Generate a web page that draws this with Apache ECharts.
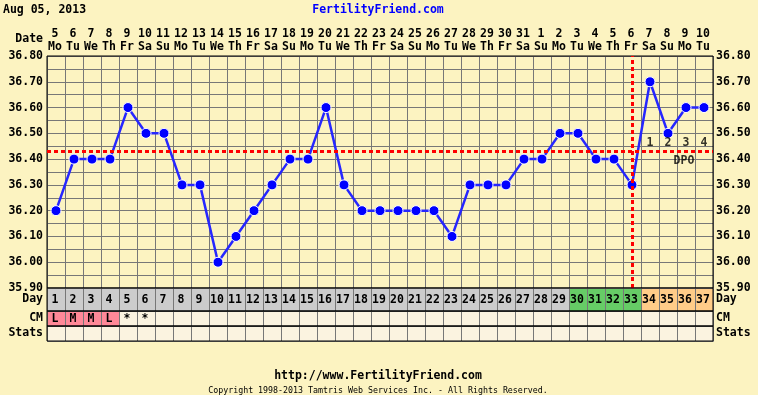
<!DOCTYPE html>
<html><head><meta charset="utf-8">
<script src="https://cdn.jsdelivr.net/npm/echarts@6/dist/echarts.min.js"></script>
<style>html,body{margin:0;padding:0;background:#FCF3C1;}#c{width:758px;height:395px;}</style>
</head><body><div id="c"></div>
<script>
// ---------- data ----------
const chartDate = 'Aug 05, 2013';
const siteName = 'FertilityFriend.com';
const siteUrl = 'http://www.FertilityFriend.com';
const copyright = 'Copyright 1998-2013 Tamtris Web Services Inc. - All Rights Reserved.';
const dayNums = ['1','2','3','4','5','6','7','8','9','10','11','12','13','14','15','16','17','18','19','20','21','22','23','24','25','26','27','28','29','30','31','32','33','34','35','36','37'];
const dates = ['5','6','7','8','9','10','11','12','13','14','15','16','17','18','19','20','21','22','23','24','25','26','27','28','29','30','31','1','2','3','4','5','6','7','8','9','10'];
const weekdays = ['Mo','Tu','We','Th','Fr','Sa','Su','Mo','Tu','We','Th','Fr','Sa','Su','Mo','Tu','We','Th','Fr','Sa','Su','Mo','Tu','We','Th','Fr','Sa','Su','Mo','Tu','We','Th','Fr','Sa','Su','Mo','Tu'];
const temps = [36.20,36.40,36.40,36.40,36.60,36.50,36.50,36.30,36.30,36.00,36.10,36.20,36.30,36.40,36.40,36.60,36.30,36.20,36.20,36.20,36.20,36.20,36.10,36.30,36.30,36.30,36.40,36.40,36.50,36.50,36.40,36.40,36.30,36.70,36.50,36.60,36.60];
const coverline = 36.43;
const ovulationDay = '33';
const dpoDays = ['34','35','36','37'];
const dpoLabels = ['1','2','3','4'];
const dpoTitle = 'DPO';
const dpoTitleDay = '36';
const phases = ['n','n','n','n','n','n','n','n','n','n','n','n','n','n','n','n','n','n','n','n','n','n','n','n','n','n','n','n','n','f','f','f','f','l','l','l','l'];
const cmValues = ['L','M','M','L','*','*','','','','','','','','','','','','','','','','','','','','','','','','','','','','','','',''];
const statsValues = ['','','','','','','','','','','','','','','','','','','','','','','','','','','','','','','','','','','','',''];
const tempMin = 35.9, tempMax = 36.8, tempStep = 0.1;
const rowNames = ['Day','CM','Stats'];

// ---------- styles ----------
const FONT = '"DejaVu Sans Mono", monospace';
const BG = '#FCF3C1';
const GRIDC = '#777777';
const phaseColor = {n:'#CCCCCC', f:'#66CC66', l:'#FFCC88'};
const CREAM = '#FBF3E0';
const PINK = '#FF8898';
const flowCodes = ['L','M','H','S'];
const L = 47, W = 666;

const chart = echarts.init(document.getElementById('c'), null, {renderer:'canvas'});

function mkCell(textArr, fillFn) {
  return function (params, api) {
    const i = params.dataIndex;
    const c = api.coord([api.value(0), 0]);
    const s = api.size([1, 1]);
    const x0 = Math.round(c[0] - s[0] / 2), y0 = Math.round(c[1] - s[1] / 2);
    return {type:'group', children:[
      {type:'rect', shape:{x:x0 + 0.5, y:y0 + 0.5, width:s[0], height:s[1]},
       style:{fill:fillFn(i), stroke:GRIDC, lineWidth:1}},
      {type:'text', x:c[0] - 1, y:c[1] + 0.5,
       style:{text:textArr[i], fill:'#000', font:'bold 11.5px ' + FONT, align:'center', verticalAlign:'middle'}}
    ]};
  };
}

const labelStyle = {color:'#000', fontFamily:FONT, fontWeight:'bold', fontSize:11.5};

const tableGrids = [
  {left:L, width:W, top:288, height:23},
  {left:L, width:W, top:311, height:15},
  {left:L, width:W, top:326, height:15}
];

const xAxes = [{
  type:'category', gridIndex:0, data:dayNums, position:'top', boundaryGap:true,
  axisLine:{show:false}, axisTick:{show:false},
  splitLine:{show:true, interval:0, lineStyle:{color:GRIDC, width:1}},
  axisLabel:{interval:0, margin:2, formatter:(v, idx) => '{d|' + dates[idx] + '}\n{w|' + weekdays[idx] + '}',
    rich:{d:{...labelStyle, lineHeight:13, padding:[0,2,0,0]}, w:{...labelStyle, lineHeight:13, padding:[0,2,0,0]}}}
}];
const yAxes = [
  {type:'value', gridIndex:0, position:'left', min:tempMin, max:tempMax, interval:tempStep,
   axisLine:{show:false}, axisTick:{show:false},
   splitLine:{show:true, lineStyle:{color:GRIDC, width:1}},
   minorTick:{show:false, splitNumber:2},
   minorSplitLine:{show:true, lineStyle:{color:GRIDC, width:1}},
   axisLabel:{...labelStyle, margin:4, formatter:v => v.toFixed(2)}},
  {type:'value', gridIndex:0, position:'right', min:tempMin, max:tempMax, interval:tempStep,
   axisLine:{show:false}, axisTick:{show:false}, splitLine:{show:false},
   axisLabel:{...labelStyle, margin:3, formatter:v => v.toFixed(2)}}
];
tableGrids.forEach((g, k) => {
  xAxes.push({type:'category', gridIndex:k + 1, data:dayNums, show:false, boundaryGap:true});
  yAxes.push({type:'category', gridIndex:k + 1, data:[rowNames[k]], position:'left',
    axisLine:{show:false}, axisTick:{show:false}, splitLine:{show:false},
    axisLabel:{...labelStyle, margin:4}});
  yAxes.push({type:'category', gridIndex:k + 1, data:[rowNames[k]], position:'right',
    axisLine:{show:false}, axisTick:{show:false}, splitLine:{show:false},
    axisLabel:{...labelStyle, margin:3}});
});

const option = {
  backgroundColor: BG,
  animation:false,
  grid:[
    {left:L, width:W, top:56, height:232, show:true, borderColor:'#000', borderWidth:1, z:1},
    ...tableGrids.map(g => ({...g, show:true, borderColor:'#000', borderWidth:1, z:10}))
  ],
  xAxis:xAxes,
  yAxis:yAxes,
  graphic:[
    {type:'text', x:3, y:10.5, style:{text:chartDate, font:'bold 11.5px ' + FONT, fill:'#000', verticalAlign:'middle'}},
    {type:'text', x:378, y:10.5, style:{text:siteName, font:'bold 11.5px ' + FONT, fill:'#0000FF', align:'center', verticalAlign:'middle'}},
    {type:'text', x:43, y:39.5, style:{text:'Date', font:'bold 11.5px ' + FONT, fill:'#000', align:'right', verticalAlign:'middle'}},
    {type:'text', x:378, y:376, style:{text:siteUrl, font:'bold 11.5px ' + FONT, fill:'#000', align:'center', verticalAlign:'middle'}},
    {type:'text', x:378, y:391, style:{text:copyright, font:'8.3px ' + FONT, fill:'#000', align:'center', verticalAlign:'middle'}}
  ],
  series:[
    {type:'line', xAxisIndex:0, yAxisIndex:0, data:temps, z:3,
     lineStyle:{color:'#2626FF', width:2.5},
     symbol:'circle', symbolSize:10,
     itemStyle:{color:'#0000FF', borderColor:'#FFFFFF', borderWidth:1},
     markLine:{silent:true, symbol:'none', label:{show:false}, z:5,
       lineStyle:{color:'#FF0000', width:3, type:[4,3]},
       data:[{yAxis:coverline}, {xAxis:ovulationDay}]}},
    {type:'scatter', xAxisIndex:0, yAxisIndex:0, symbolSize:0, z:4,
     data:dpoDays.map((d, k) => ({value:[d, coverline], name:dpoLabels[k]})),
     label:{show:true, position:'top', distance:2, formatter:p => p.name, ...labelStyle}},
    {type:'scatter', xAxisIndex:0, yAxisIndex:0, symbolSize:0, z:4,
     data:[{value:[dpoTitleDay, coverline], name:dpoTitle}],
     label:{show:true, position:'bottom', distance:4, offset:[-2,0], formatter:p => p.name, ...labelStyle}},
    {type:'custom', xAxisIndex:1, yAxisIndex:2, z:2,
     data:dayNums.map((d, i) => [i, 0]),
     renderItem:mkCell(dayNums, i => phaseColor[phases[i]])},
    {type:'custom', xAxisIndex:2, yAxisIndex:4, z:2,
     data:dayNums.map((d, i) => [i, 0]),
     renderItem:mkCell(cmValues, i => flowCodes.includes(cmValues[i]) ? PINK : CREAM)},
    {type:'custom', xAxisIndex:3, yAxisIndex:6, z:2,
     data:dayNums.map((d, i) => [i, 0]),
     renderItem:mkCell(statsValues, i => CREAM)}
  ]
};
chart.setOption(option);
</script>
</body></html>
